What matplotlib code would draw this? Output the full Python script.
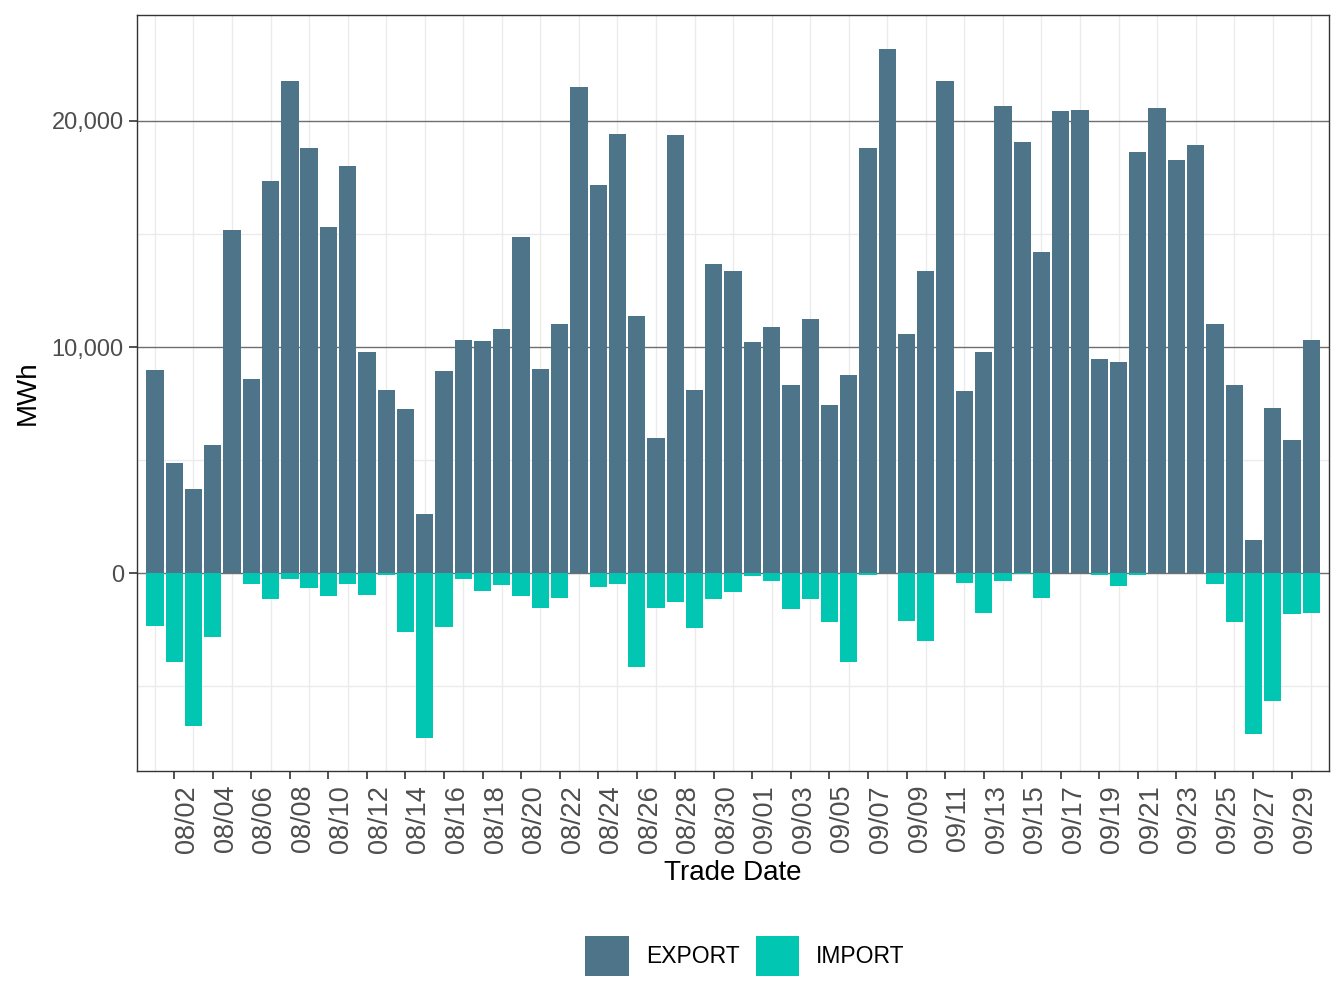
import numpy as np
import pandas as pd
import matplotlib
matplotlib.use('Agg')
import matplotlib.pyplot as plt
import matplotlib.dates as mdates
from matplotlib.patches import Patch

plt.rcParams['font.family'] = ['Liberation Sans', 'DejaVu Sans']

# daily values, 08/01 .. 09/30
dates = pd.date_range('2023-08-01', '2023-09-30', freq='D')
export_mwh = [8980, 4870, 3720, 5660, 15180, 8580, 17350, 21770, 18800, 15310,
              18010, 9780, 8100, 7260, 2610, 8940, 10310, 10270, 10800, 14870,
              9030, 11020, 21500, 17170, 19420, 11370, 5970, 19380, 8100, 13670,
              13360, 10220, 10890, 8320, 11240, 7430, 8760, 18800, 23190, 10580,
              13360, 21770, 8050, 9780, 20660, 19070, 14200, 20440, 20490, 9470,
              9340, 18630, 20580, 18270, 18940, 11020, 8320, 1460, 7300, 5890,
              10310]
import_mwh = [-2330, -3930, -6760, -2820, 0, -470, -1140, -250, -650, -1000,
              -470, -960, -70, -2600, -7290, -2380, -250, -780, -520, -1000,
              -1540, -1090, 0, -600, -470, -4150, -1540, -1270, -2420, -1140,
              -830, -120, -340, -1580, -1140, -2150, -3930, -70, 0, -2110,
              -3000, 0, -430, -1760, -340, -30, -1090, 0, 0, -70,
              -560, -70, 0, 0, 0, -470, -2150, -7110, -5650, -1800,
              -1760]

c_export = '#4E7489'
c_import = '#00C6B2'

fig = plt.figure(figsize=(13.44, 10.08), dpi=100)
ax = fig.add_axes([137/1344, 1 - 771/1008, (1329-137)/1344, (771-15)/1008])

ax.bar(dates, export_mwh, width=0.9, color=c_export, zorder=3)
ax.bar(dates, import_mwh, width=0.9, color=c_import, zorder=3)

# grid: light lines on odd days and half steps, darker at major y
for d in dates[::2]:
    ax.axvline(d, color='#EBEBEB', lw=1.0, zorder=1)
for v in [-5000, 5000, 15000]:
    ax.axhline(v, color='#EBEBEB', lw=1.0, zorder=1)
for v in [0, 10000, 20000]:
    ax.axhline(v, color='#6E6E6E', lw=1.0, zorder=2)

ax.set_xlim(dates[0] - pd.Timedelta(days=0.93), dates[-1] + pd.Timedelta(days=0.92))
ax.set_ylim(-8760, 24690)

ax.set_yticks([0, 10000, 20000])
ax.set_yticklabels(['0', '10,000', '20,000'])
ax.set_xticks(dates[1::2])
ax.xaxis.set_major_formatter(mdates.DateFormatter('%m/%d'))
plt.setp(ax.get_xticklabels(), rotation=90, ha='left', va='top')

ax.tick_params(axis='both', direction='out', length=6, width=1.2, color='#333333',
               labelsize=17, labelcolor='#4D4D4D')
ax.tick_params(axis='x', pad=4, labelsize=19.5)
for s in ax.spines.values():
    s.set_color('#333333')
    s.set_linewidth(1.0)
    s.set_zorder(5)

ax.set_xlabel('Trade Date', fontsize=20, labelpad=5)
ax.set_ylabel('MWh', fontsize=20, labelpad=8)

handles = [Patch(facecolor=c_export, label='EXPORT'), Patch(facecolor=c_import, label='IMPORT')]
fig.legend(handles=handles, loc='center', bbox_to_anchor=(745/1344, 1 - 956/1008), ncol=2,
           frameon=False, fontsize=16.5, handlelength=1.9, handleheight=2.35,
           handletextpad=0.75, columnspacing=0.7)

fig.savefig('out.png', dpi=100)
